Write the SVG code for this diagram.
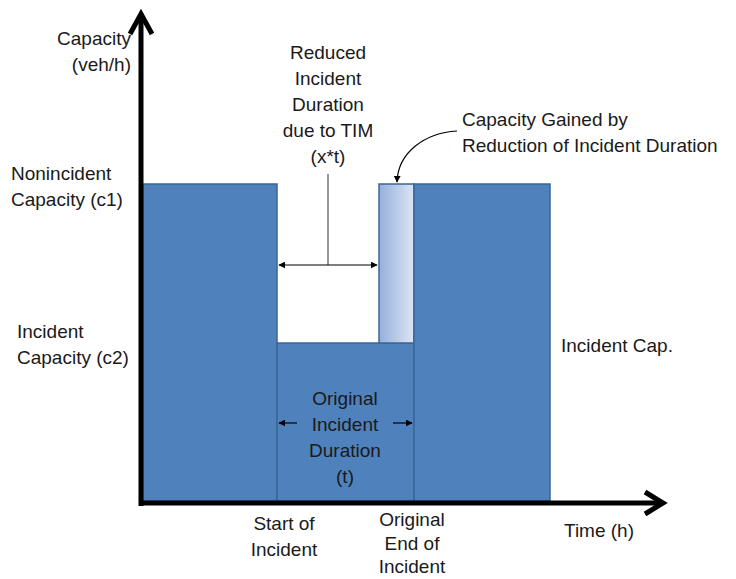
<svg xmlns="http://www.w3.org/2000/svg" width="736" height="579" viewBox="0 0 736 579">
<defs>
<linearGradient id="lightGrad" x1="0" y1="0" x2="1" y2="0">
<stop offset="0" stop-color="#95B0DD"/>
<stop offset="1" stop-color="#DCE5F4"/>
</linearGradient>
<marker id="ah" viewBox="0 0 10 10" refX="9" refY="5" markerWidth="7" markerHeight="7" markerUnits="userSpaceOnUse" orient="auto">
<path d="M0,0 L10,5 L0,10 z" fill="#000"/>
</marker>
<marker id="ahs" viewBox="0 0 10 10" refX="9" refY="5" markerWidth="7" markerHeight="7" markerUnits="userSpaceOnUse" orient="auto-start-reverse">
<path d="M0,0 L10,5 L0,10 z" fill="#000"/>
</marker>
</defs>
<style>
.t{font-family:"Liberation Sans",Arial,sans-serif;font-size:19px;fill:#1a1a1a}
.m{text-anchor:middle}
.e{text-anchor:end}
.blue{fill:#4F81BD;stroke:#3B6696;stroke-width:1.5}
.axis{stroke:#000;stroke-width:5;fill:none}
.chev{stroke:#000;stroke-width:5;fill:none;stroke-linejoin:miter}
.thin{stroke:#000;stroke-width:1.2;fill:none}
</style>
<rect width="736" height="579" fill="#fff"/>

<g id="bars">
<rect id="bar-left" class="blue" x="143" y="184" width="134" height="317"/>
<rect id="bar-middle" class="blue" x="277" y="343" width="137" height="158"/>
<rect id="bar-gained" x="379" y="184" width="35" height="159" fill="url(#lightGrad)" stroke="#3B6696" stroke-width="1.5"/>
<rect id="bar-right" class="blue" x="414" y="184" width="136" height="317"/>
</g>

<g id="axes">
<line class="axis" x1="141" y1="506" x2="141" y2="14"/>
<polyline class="chev" points="130,34 141,14 152,34"/>
<line class="axis" x1="139" y1="503" x2="662" y2="503"/>
<polyline class="chev" points="645,492 663,503 645,514"/>
</g>

<g id="connectors">
<line x1="328" y1="174" x2="328" y2="265" stroke="#555" stroke-width="1.2"/>
<line class="thin" x1="279" y1="265" x2="377" y2="265" marker-start="url(#ahs)" marker-end="url(#ah)"/>
<line class="thin" x1="297" y1="423" x2="279" y2="423" marker-end="url(#ah)"/>
<line class="thin" x1="393" y1="423" x2="412" y2="423" marker-end="url(#ah)"/>
<path class="thin" d="M457,131 C425,133 398,152 397,182" marker-end="url(#ah)"/>
</g>

<g id="label-yaxis">
<text class="t e" x="131" y="45">Capacity</text>
<text class="t e" x="131" y="71">(veh/h)</text>
</g>
<g id="label-c1">
<text class="t" x="11" y="180">Nonincident</text>
<text class="t" x="11" y="206">Capacity (c1)</text>
</g>
<g id="label-c2">
<text class="t" x="17" y="338">Incident</text>
<text class="t" x="17" y="364">Capacity (c2)</text>
</g>
<g id="label-reduced">
<text class="t m" x="328" y="59">Reduced</text>
<text class="t m" x="328" y="85">Incident</text>
<text class="t m" x="328" y="111">Duration</text>
<text class="t m" x="328" y="137">due to TIM</text>
<text class="t m" x="328" y="163">(x*t)</text>
</g>
<g id="label-gained">
<text class="t" x="462" y="126">Capacity Gained by</text>
<text class="t" x="462" y="152">Reduction of Incident Duration</text>
</g>
<g id="label-original">
<text class="t m" x="345" y="405">Original</text>
<text class="t m" x="345" y="431">Incident</text>
<text class="t m" x="345" y="457">Duration</text>
<text class="t m" x="345" y="483">(t)</text>
</g>
<g id="label-inccap">
<text class="t" x="561" y="352">Incident Cap.</text>
</g>
<g id="label-start">
<text class="t m" x="284" y="530">Start of</text>
<text class="t m" x="284" y="556">Incident</text>
</g>
<g id="label-end">
<text class="t m" x="412" y="526">Original</text>
<text class="t m" x="412" y="550">End of</text>
<text class="t m" x="412" y="573">Incident</text>
</g>
<g id="label-time">
<text class="t" x="564" y="537">Time (h)</text>
</g>
</svg>
